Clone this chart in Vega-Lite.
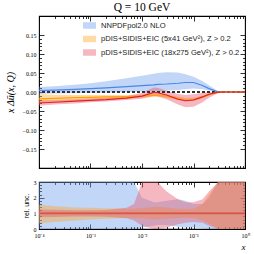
{
  "$schema": "https://vega.github.io/schema/vega-lite/v6.json",
  "padding": {"left": 4, "top": 1, "right": 6, "bottom": 2},
  "config": {
    "view": {"stroke": "black", "strokeWidth": 1.1},
    "axis": {"domain": false, "grid": false, "tickColor": "black", "tickWidth": 0.8, "labelFont": "Liberation Serif", "labelFontSize": 6, "labelColor": "black", "titleColor": "black", "labelFlush": false, "labelOverlap": false, "titleFontWeight": "normal"},
    "legend": {"labelFont": "Liberation Sans", "labelFontSize": 7.6, "labelColor": "#222"}
  },
  "datasets": {
    "main": [
      {"x": 0.0001, "series": "NNPDFpol2.0 NLO", "c": 0.004, "lo": -0.005, "hi": 0.013},
      {"x": 0.0002, "series": "NNPDFpol2.0 NLO", "c": 0.005, "lo": -0.004, "hi": 0.015},
      {"x": 0.0005, "series": "NNPDFpol2.0 NLO", "c": 0.007, "lo": -0.003, "hi": 0.019},
      {"x": 0.001, "series": "NNPDFpol2.0 NLO", "c": 0.009, "lo": -0.002, "hi": 0.023},
      {"x": 0.002, "series": "NNPDFpol2.0 NLO", "c": 0.011, "lo": -0.001, "hi": 0.028},
      {"x": 0.005, "series": "NNPDFpol2.0 NLO", "c": 0.014, "lo": 0.0, "hi": 0.036},
      {"x": 0.01, "series": "NNPDFpol2.0 NLO", "c": 0.017, "lo": 0.001, "hi": 0.043},
      {"x": 0.017, "series": "NNPDFpol2.0 NLO", "c": 0.019, "lo": 0.002, "hi": 0.048},
      {"x": 0.02, "series": "NNPDFpol2.0 NLO", "c": 0.02, "lo": 0.003, "hi": 0.05},
      {"x": 0.03, "series": "NNPDFpol2.0 NLO", "c": 0.021, "lo": 0.004, "hi": 0.052},
      {"x": 0.05, "series": "NNPDFpol2.0 NLO", "c": 0.023, "lo": 0.005, "hi": 0.051},
      {"x": 0.07, "series": "NNPDFpol2.0 NLO", "c": 0.025, "lo": 0.007, "hi": 0.047},
      {"x": 0.1, "series": "NNPDFpol2.0 NLO", "c": 0.025, "lo": 0.009, "hi": 0.04},
      {"x": 0.15, "series": "NNPDFpol2.0 NLO", "c": 0.017, "lo": 0.007, "hi": 0.028},
      {"x": 0.2, "series": "NNPDFpol2.0 NLO", "c": 0.009, "lo": 0.004, "hi": 0.018},
      {"x": 0.3, "series": "NNPDFpol2.0 NLO", "c": 0.0005, "lo": 0.0, "hi": 0.002},
      {"x": 0.4, "series": "NNPDFpol2.0 NLO", "c": 0, "lo": 0, "hi": 0},
      {"x": 0.5, "series": "NNPDFpol2.0 NLO", "c": 0, "lo": 0, "hi": 0},
      {"x": 1, "series": "NNPDFpol2.0 NLO", "c": 0, "lo": 0, "hi": 0},
      {"x": 0.0001, "series": "pDIS+SIDIS+EIC (5x41 GeV²), Z > 0.2", "c": -0.018, "lo": -0.03, "hi": -0.005},
      {"x": 0.0002, "series": "pDIS+SIDIS+EIC (5x41 GeV²), Z > 0.2", "c": -0.017, "lo": -0.027, "hi": -0.007},
      {"x": 0.0005, "series": "pDIS+SIDIS+EIC (5x41 GeV²), Z > 0.2", "c": -0.015, "lo": -0.023, "hi": -0.008},
      {"x": 0.001, "series": "pDIS+SIDIS+EIC (5x41 GeV²), Z > 0.2", "c": -0.014, "lo": -0.021, "hi": -0.008},
      {"x": 0.002, "series": "pDIS+SIDIS+EIC (5x41 GeV²), Z > 0.2", "c": -0.013, "lo": -0.019, "hi": -0.008},
      {"x": 0.005, "series": "pDIS+SIDIS+EIC (5x41 GeV²), Z > 0.2", "c": -0.012, "lo": -0.017, "hi": -0.008},
      {"x": 0.01, "series": "pDIS+SIDIS+EIC (5x41 GeV²), Z > 0.2", "c": -0.011, "lo": -0.015, "hi": -0.007},
      {"x": 0.017, "series": "pDIS+SIDIS+EIC (5x41 GeV²), Z > 0.2", "c": -0.009, "lo": -0.013, "hi": -0.006},
      {"x": 0.02, "series": "pDIS+SIDIS+EIC (5x41 GeV²), Z > 0.2", "c": -0.009, "lo": -0.013, "hi": -0.006},
      {"x": 0.03, "series": "pDIS+SIDIS+EIC (5x41 GeV²), Z > 0.2", "c": -0.011, "lo": -0.015, "hi": -0.007},
      {"x": 0.05, "series": "pDIS+SIDIS+EIC (5x41 GeV²), Z > 0.2", "c": -0.017, "lo": -0.021, "hi": -0.012},
      {"x": 0.07, "series": "pDIS+SIDIS+EIC (5x41 GeV²), Z > 0.2", "c": -0.021, "lo": -0.025, "hi": -0.016},
      {"x": 0.1, "series": "pDIS+SIDIS+EIC (5x41 GeV²), Z > 0.2", "c": -0.02, "lo": -0.024, "hi": -0.015},
      {"x": 0.15, "series": "pDIS+SIDIS+EIC (5x41 GeV²), Z > 0.2", "c": -0.013, "lo": -0.017, "hi": -0.009},
      {"x": 0.2, "series": "pDIS+SIDIS+EIC (5x41 GeV²), Z > 0.2", "c": -0.007, "lo": -0.01, "hi": -0.004},
      {"x": 0.3, "series": "pDIS+SIDIS+EIC (5x41 GeV²), Z > 0.2", "c": -0.0005, "lo": -0.002, "hi": 0.0},
      {"x": 0.4, "series": "pDIS+SIDIS+EIC (5x41 GeV²), Z > 0.2", "c": 0, "lo": 0, "hi": 0},
      {"x": 0.5, "series": "pDIS+SIDIS+EIC (5x41 GeV²), Z > 0.2", "c": 0, "lo": 0, "hi": 0},
      {"x": 1, "series": "pDIS+SIDIS+EIC (5x41 GeV²), Z > 0.2", "c": 0, "lo": 0, "hi": 0},
      {"x": 0.0001, "series": "pDIS+SIDIS+EIC (18x275 GeV²), Z > 0.2", "c": -0.029, "lo": -0.036, "hi": -0.022},
      {"x": 0.0002, "series": "pDIS+SIDIS+EIC (18x275 GeV²), Z > 0.2", "c": -0.027, "lo": -0.033, "hi": -0.021},
      {"x": 0.0005, "series": "pDIS+SIDIS+EIC (18x275 GeV²), Z > 0.2", "c": -0.024, "lo": -0.03, "hi": -0.019},
      {"x": 0.001, "series": "pDIS+SIDIS+EIC (18x275 GeV²), Z > 0.2", "c": -0.022, "lo": -0.027, "hi": -0.017},
      {"x": 0.002, "series": "pDIS+SIDIS+EIC (18x275 GeV²), Z > 0.2", "c": -0.02, "lo": -0.025, "hi": -0.015},
      {"x": 0.005, "series": "pDIS+SIDIS+EIC (18x275 GeV²), Z > 0.2", "c": -0.016, "lo": -0.021, "hi": -0.011},
      {"x": 0.01, "series": "pDIS+SIDIS+EIC (18x275 GeV²), Z > 0.2", "c": -0.011, "lo": -0.018, "hi": -0.002},
      {"x": 0.017, "series": "pDIS+SIDIS+EIC (18x275 GeV²), Z > 0.2", "c": -0.001, "lo": -0.01, "hi": 0.012},
      {"x": 0.02, "series": "pDIS+SIDIS+EIC (18x275 GeV²), Z > 0.2", "c": -0.002, "lo": -0.011, "hi": 0.011},
      {"x": 0.03, "series": "pDIS+SIDIS+EIC (18x275 GeV²), Z > 0.2", "c": -0.008, "lo": -0.019, "hi": 0.004},
      {"x": 0.05, "series": "pDIS+SIDIS+EIC (18x275 GeV²), Z > 0.2", "c": -0.019, "lo": -0.033, "hi": -0.005},
      {"x": 0.07, "series": "pDIS+SIDIS+EIC (18x275 GeV²), Z > 0.2", "c": -0.023, "lo": -0.04, "hi": -0.008},
      {"x": 0.1, "series": "pDIS+SIDIS+EIC (18x275 GeV²), Z > 0.2", "c": -0.021, "lo": -0.039, "hi": -0.006},
      {"x": 0.15, "series": "pDIS+SIDIS+EIC (18x275 GeV²), Z > 0.2", "c": -0.013, "lo": -0.027, "hi": -0.002},
      {"x": 0.2, "series": "pDIS+SIDIS+EIC (18x275 GeV²), Z > 0.2", "c": -0.006, "lo": -0.015, "hi": 0.0},
      {"x": 0.3, "series": "pDIS+SIDIS+EIC (18x275 GeV²), Z > 0.2", "c": -0.0005, "lo": -0.003, "hi": 0.001},
      {"x": 0.4, "series": "pDIS+SIDIS+EIC (18x275 GeV²), Z > 0.2", "c": 0, "lo": 0, "hi": 0},
      {"x": 0.5, "series": "pDIS+SIDIS+EIC (18x275 GeV²), Z > 0.2", "c": 0, "lo": 0, "hi": 0},
      {"x": 1, "series": "pDIS+SIDIS+EIC (18x275 GeV²), Z > 0.2", "c": 0, "lo": 0, "hi": 0}
    ],
    "rel": [
      {"x": 0.0001, "series": "NNPDFpol2.0 NLO", "lo": 0, "hi": 3},
      {"x": 0.0002, "series": "NNPDFpol2.0 NLO", "lo": 0, "hi": 3},
      {"x": 0.0005, "series": "NNPDFpol2.0 NLO", "lo": 0, "hi": 3},
      {"x": 0.001, "series": "NNPDFpol2.0 NLO", "lo": 0, "hi": 3},
      {"x": 0.002, "series": "NNPDFpol2.0 NLO", "lo": 0, "hi": 3},
      {"x": 0.005, "series": "NNPDFpol2.0 NLO", "lo": 0, "hi": 3},
      {"x": 0.007, "series": "NNPDFpol2.0 NLO", "lo": 0, "hi": 3},
      {"x": 0.01, "series": "NNPDFpol2.0 NLO", "lo": 0.1, "hi": 2.0},
      {"x": 0.017, "series": "NNPDFpol2.0 NLO", "lo": 0.2, "hi": 1.7},
      {"x": 0.02, "series": "NNPDFpol2.0 NLO", "lo": 0.25, "hi": 1.7},
      {"x": 0.03, "series": "NNPDFpol2.0 NLO", "lo": 0.25, "hi": 1.8},
      {"x": 0.05, "series": "NNPDFpol2.0 NLO", "lo": 0.15, "hi": 1.9},
      {"x": 0.07, "series": "NNPDFpol2.0 NLO", "lo": 0.1, "hi": 1.8},
      {"x": 0.1, "series": "NNPDFpol2.0 NLO", "lo": 0.1, "hi": 1.6},
      {"x": 0.15, "series": "NNPDFpol2.0 NLO", "lo": 0.05, "hi": 1.6},
      {"x": 0.2, "series": "NNPDFpol2.0 NLO", "lo": 0, "hi": 2.0},
      {"x": 0.3, "series": "NNPDFpol2.0 NLO", "lo": 0, "hi": 3},
      {"x": 0.4, "series": "NNPDFpol2.0 NLO", "lo": 0, "hi": 3},
      {"x": 0.5, "series": "NNPDFpol2.0 NLO", "lo": 0, "hi": 3},
      {"x": 1, "series": "NNPDFpol2.0 NLO", "lo": 0, "hi": 3},
      {"x": 0.0001, "series": "pDIS+SIDIS+EIC (5x41 GeV²), Z > 0.2", "lo": 0.35, "hi": 1.55},
      {"x": 0.0002, "series": "pDIS+SIDIS+EIC (5x41 GeV²), Z > 0.2", "lo": 0.45, "hi": 1.45},
      {"x": 0.0005, "series": "pDIS+SIDIS+EIC (5x41 GeV²), Z > 0.2", "lo": 0.55, "hi": 1.38},
      {"x": 0.001, "series": "pDIS+SIDIS+EIC (5x41 GeV²), Z > 0.2", "lo": 0.6, "hi": 1.35},
      {"x": 0.002, "series": "pDIS+SIDIS+EIC (5x41 GeV²), Z > 0.2", "lo": 0.65, "hi": 1.33},
      {"x": 0.005, "series": "pDIS+SIDIS+EIC (5x41 GeV²), Z > 0.2", "lo": 0.7, "hi": 1.3},
      {"x": 0.007, "series": "pDIS+SIDIS+EIC (5x41 GeV²), Z > 0.2", "lo": 0.7, "hi": 1.3},
      {"x": 0.01, "series": "pDIS+SIDIS+EIC (5x41 GeV²), Z > 0.2", "lo": 0.68, "hi": 1.33},
      {"x": 0.017, "series": "pDIS+SIDIS+EIC (5x41 GeV²), Z > 0.2", "lo": 0.6, "hi": 1.4},
      {"x": 0.02, "series": "pDIS+SIDIS+EIC (5x41 GeV²), Z > 0.2", "lo": 0.6, "hi": 1.42},
      {"x": 0.03, "series": "pDIS+SIDIS+EIC (5x41 GeV²), Z > 0.2", "lo": 0.65, "hi": 1.38},
      {"x": 0.05, "series": "pDIS+SIDIS+EIC (5x41 GeV²), Z > 0.2", "lo": 0.7, "hi": 1.3},
      {"x": 0.07, "series": "pDIS+SIDIS+EIC (5x41 GeV²), Z > 0.2", "lo": 0.72, "hi": 1.28},
      {"x": 0.1, "series": "pDIS+SIDIS+EIC (5x41 GeV²), Z > 0.2", "lo": 0.7, "hi": 1.3},
      {"x": 0.15, "series": "pDIS+SIDIS+EIC (5x41 GeV²), Z > 0.2", "lo": 0.55, "hi": 1.6},
      {"x": 0.2, "series": "pDIS+SIDIS+EIC (5x41 GeV²), Z > 0.2", "lo": 0.35, "hi": 2.2},
      {"x": 0.3, "series": "pDIS+SIDIS+EIC (5x41 GeV²), Z > 0.2", "lo": 0, "hi": 3},
      {"x": 0.4, "series": "pDIS+SIDIS+EIC (5x41 GeV²), Z > 0.2", "lo": 0, "hi": 3},
      {"x": 0.5, "series": "pDIS+SIDIS+EIC (5x41 GeV²), Z > 0.2", "lo": 0, "hi": 3},
      {"x": 1, "series": "pDIS+SIDIS+EIC (5x41 GeV²), Z > 0.2", "lo": 0, "hi": 3},
      {"x": 0.0001, "series": "pDIS+SIDIS+EIC (18x275 GeV²), Z > 0.2", "lo": 0.75, "hi": 1.25},
      {"x": 0.0002, "series": "pDIS+SIDIS+EIC (18x275 GeV²), Z > 0.2", "lo": 0.77, "hi": 1.23},
      {"x": 0.0005, "series": "pDIS+SIDIS+EIC (18x275 GeV²), Z > 0.2", "lo": 0.8, "hi": 1.2},
      {"x": 0.001, "series": "pDIS+SIDIS+EIC (18x275 GeV²), Z > 0.2", "lo": 0.8, "hi": 1.2},
      {"x": 0.002, "series": "pDIS+SIDIS+EIC (18x275 GeV²), Z > 0.2", "lo": 0.78, "hi": 1.22},
      {"x": 0.005, "series": "pDIS+SIDIS+EIC (18x275 GeV²), Z > 0.2", "lo": 0.68, "hi": 1.35},
      {"x": 0.007, "series": "pDIS+SIDIS+EIC (18x275 GeV²), Z > 0.2", "lo": 0.55, "hi": 1.6},
      {"x": 0.01, "series": "pDIS+SIDIS+EIC (18x275 GeV²), Z > 0.2", "lo": 0.2, "hi": 3},
      {"x": 0.017, "series": "pDIS+SIDIS+EIC (18x275 GeV²), Z > 0.2", "lo": 0, "hi": 3},
      {"x": 0.02, "series": "pDIS+SIDIS+EIC (18x275 GeV²), Z > 0.2", "lo": 0, "hi": 3},
      {"x": 0.03, "series": "pDIS+SIDIS+EIC (18x275 GeV²), Z > 0.2", "lo": 0.1, "hi": 2.4},
      {"x": 0.05, "series": "pDIS+SIDIS+EIC (18x275 GeV²), Z > 0.2", "lo": 0.3, "hi": 1.9},
      {"x": 0.07, "series": "pDIS+SIDIS+EIC (18x275 GeV²), Z > 0.2", "lo": 0.4, "hi": 1.7},
      {"x": 0.1, "series": "pDIS+SIDIS+EIC (18x275 GeV²), Z > 0.2", "lo": 0.45, "hi": 1.7},
      {"x": 0.15, "series": "pDIS+SIDIS+EIC (18x275 GeV²), Z > 0.2", "lo": 0.4, "hi": 1.9},
      {"x": 0.2, "series": "pDIS+SIDIS+EIC (18x275 GeV²), Z > 0.2", "lo": 0.2, "hi": 2.4},
      {"x": 0.3, "series": "pDIS+SIDIS+EIC (18x275 GeV²), Z > 0.2", "lo": 0, "hi": 3},
      {"x": 0.4, "series": "pDIS+SIDIS+EIC (18x275 GeV²), Z > 0.2", "lo": 0, "hi": 3},
      {"x": 0.5, "series": "pDIS+SIDIS+EIC (18x275 GeV²), Z > 0.2", "lo": 0, "hi": 3},
      {"x": 1, "series": "pDIS+SIDIS+EIC (18x275 GeV²), Z > 0.2", "lo": 0, "hi": 3}
    ]
  },
  "spacing": 9,
  "resolve": {"scale": {"fill": "independent", "stroke": "independent"}, "legend": {"fill": "independent"}},
  "vconcat": [
    {
      "width": 206,
      "height": 152,
      "title": {"text": "Q = 10 GeV", "font": "Liberation Serif", "fontSize": 11.5, "fontWeight": "normal", "color": "black", "offset": 2},
      "data": {"name": "main"},
      "resolve": {"axis": {"x": "independent", "y": "independent"}},
      "layer": [
        {
          "mark": {"type": "area", "fillOpacity": 0.42},
          "encoding": {
            "x": {"field": "x", "type": "quantitative", "scale": {"type": "log", "domain": [0.0001, 1]},
                  "axis": {"orient": "bottom", "values": [0.0001, 0.001, 0.01, 0.1, 1], "labels": false, "tickSize": -5, "title": null}},
            "y": {"field": "lo", "type": "quantitative", "scale": {"domain": [-0.15, 0.15]},
                  "axis": {"orient": "left", "values": [-0.15, -0.1, -0.05, 0, 0.05, 0.1, 0.15], "format": ".2f", "tickSize": -5, "labelPadding": 8,
                           "title": "x Δū(x, Q)", "titleFont": "Liberation Serif", "titleFontStyle": "italic", "titleFontSize": 10, "titlePadding": 7}},
            "y2": {"field": "hi"},
            "fill": {"field": "series", "type": "nominal",
                     "scale": {"domain": ["NNPDFpol2.0 NLO", "pDIS+SIDIS+EIC (5x41 GeV²), Z > 0.2", "pDIS+SIDIS+EIC (18x275 GeV²), Z > 0.2"], "range": ["#6d9eeb", "#ffa726", "#e8556a"]},
                     "legend": {"orient": "none", "legendX": 44, "legendY": 3, "title": null, "symbolType": "M-1,-0.5H1V0.5H-1Z", "symbolSize": 169, "symbolOpacity": 0.42, "symbolStrokeWidth": 0, "rowPadding": 2.5, "labelOffset": 5, "labelLimit": 300, "padding": 0}}
          }
        },
        {
          "mark": {"type": "rule", "strokeDash": [3, 2], "color": "#333333", "strokeWidth": 1},
          "encoding": {"y": {"datum": 0, "type": "quantitative", "axis": null}}
        },
        {
          "transform": [{"filter": "datum.series == 'NNPDFpol2.0 NLO'"}],
          "mark": {"type": "line", "color": "#4a86e8", "strokeWidth": 1.2},
          "encoding": {
            "x": {"field": "x", "type": "quantitative", "axis": {"orient": "bottom", "values": [0.0002,0.0003,0.0004,0.0005,0.0006,0.0007,0.0008,0.0009,0.002,0.003,0.004,0.005,0.006,0.007,0.008,0.009,0.02,0.03,0.04,0.05,0.06,0.07,0.08,0.09,0.2,0.3,0.4,0.5,0.6,0.7,0.8,0.9], "labels": false, "tickSize": -2.5, "title": null}},
            "y": {"field": "c", "type": "quantitative", "axis": {"orient": "left", "values": [-0.14,-0.13,-0.12,-0.11,-0.09,-0.08,-0.07,-0.06,-0.04,-0.03,-0.02,-0.01,0.01,0.02,0.03,0.04,0.06,0.07,0.08,0.09,0.11,0.12,0.13,0.14], "labels": false, "tickSize": -2.5, "title": null}}
          }
        },
        {
          "transform": [{"filter": "indexof(datum.series, '5x41') >= 0"}],
          "mark": {"type": "line", "color": "#ffa000", "strokeWidth": 1.2},
          "encoding": {
            "x": {"field": "x", "type": "quantitative", "axis": {"orient": "top", "values": [0.0001, 0.001, 0.01, 0.1, 1], "labels": false, "tickSize": -5, "title": null}},
            "y": {"field": "c", "type": "quantitative", "axis": {"orient": "right", "values": [-0.15, -0.1, -0.05, 0, 0.05, 0.1, 0.15], "labels": false, "tickSize": -5, "title": null}}
          }
        },
        {
          "transform": [{"filter": "indexof(datum.series, '18x275') >= 0"}],
          "mark": {"type": "line", "color": "#e0202a", "strokeWidth": 1.2},
          "encoding": {
            "x": {"field": "x", "type": "quantitative", "axis": {"orient": "top", "values": [0.0002,0.0003,0.0004,0.0005,0.0006,0.0007,0.0008,0.0009,0.002,0.003,0.004,0.005,0.006,0.007,0.008,0.009,0.02,0.03,0.04,0.05,0.06,0.07,0.08,0.09,0.2,0.3,0.4,0.5,0.6,0.7,0.8,0.9], "labels": false, "tickSize": -2.5, "title": null}},
            "y": {"field": "c", "type": "quantitative", "axis": {"orient": "right", "values": [-0.14,-0.13,-0.12,-0.11,-0.09,-0.08,-0.07,-0.06,-0.04,-0.03,-0.02,-0.01,0.01,0.02,0.03,0.04,0.06,0.07,0.08,0.09,0.11,0.12,0.13,0.14], "labels": false, "tickSize": -2.5, "title": null}}
          }
        }
      ]
    },
    {
      "width": 206,
      "height": 47,
      "data": {"name": "rel"},
      "resolve": {"axis": {"x": "independent", "y": "independent"}},
      "layer": [
        {
          "mark": {"type": "area", "fillOpacity": 0.42},
          "encoding": {
            "x": {"field": "x", "type": "quantitative", "scale": {"type": "log", "domain": [0.0001, 1]},
                  "axis": {"orient": "bottom", "values": [0.0001, 0.001, 0.01, 0.1, 1], "tickSize": -5, "labelPadding": 8,
                           "labelExpr": "datum.value > 0.5 ? '10⁰' : datum.value > 0.05 ? '10⁻¹' : datum.value > 0.005 ? '10⁻²' : datum.value > 0.0005 ? '10⁻³' : '10⁻⁴'",
                           "title": "x", "titleFont": "Liberation Serif", "titleFontStyle": "italic", "titleFontSize": 9, "titleAnchor": "end", "titlePadding": 4}},
            "y": {"field": "lo", "type": "quantitative", "scale": {"domain": [0, 3]},
                  "axis": {"orient": "left", "values": [0, 1, 2, 3], "tickSize": -5, "labelPadding": 8,
                           "title": "rel. unc.", "titleFont": "Liberation Sans", "titleFontSize": 7, "titlePadding": 4}},
            "y2": {"field": "hi"},
            "fill": {"field": "series", "type": "nominal",
                     "scale": {"domain": ["NNPDFpol2.0 NLO", "pDIS+SIDIS+EIC (5x41 GeV²), Z > 0.2", "pDIS+SIDIS+EIC (18x275 GeV²), Z > 0.2"], "range": ["#6d9eeb", "#ffa726", "#e8556a"]},
                     "legend": null}
          }
        },
        {
          "transform": [{"filter": "datum.series == 'NNPDFpol2.0 NLO'"}],
          "mark": {"type": "line", "color": "#4a86e8", "strokeWidth": 1.5},
          "encoding": {
            "x": {"field": "x", "type": "quantitative", "axis": {"orient": "top", "values": [0.0001, 0.001, 0.01, 0.1, 1], "labels": false, "tickSize": -5, "title": null}},
            "y": {"datum": 1, "type": "quantitative", "axis": {"orient": "right", "values": [0, 1, 2, 3], "labels": false, "tickSize": -5, "title": null}}
          }
        },
        {
          "transform": [{"filter": "indexof(datum.series, '5x41') >= 0"}],
          "mark": {"type": "line", "color": "#ffa000", "strokeWidth": 1.5},
          "encoding": {
            "x": {"field": "x", "type": "quantitative", "axis": {"orient": "top", "values": [0.0002,0.0003,0.0004,0.0005,0.0006,0.0007,0.0008,0.0009,0.002,0.003,0.004,0.005,0.006,0.007,0.008,0.009,0.02,0.03,0.04,0.05,0.06,0.07,0.08,0.09,0.2,0.3,0.4,0.5,0.6,0.7,0.8,0.9], "labels": false, "tickSize": -2.5, "title": null}},
            "y": {"datum": 1, "type": "quantitative", "axis": {"orient": "right", "values": [0.2,0.4,0.6,0.8,1.2,1.4,1.6,1.8,2.2,2.4,2.6,2.8], "labels": false, "tickSize": -2.5, "title": null}}
          }
        },
        {
          "transform": [{"filter": "indexof(datum.series, '18x275') >= 0"}],
          "mark": {"type": "line", "color": "#e05050", "strokeWidth": 1.8},
          "encoding": {
            "x": {"field": "x", "type": "quantitative", "axis": {"orient": "bottom", "values": [0.0002,0.0003,0.0004,0.0005,0.0006,0.0007,0.0008,0.0009,0.002,0.003,0.004,0.005,0.006,0.007,0.008,0.009,0.02,0.03,0.04,0.05,0.06,0.07,0.08,0.09,0.2,0.3,0.4,0.5,0.6,0.7,0.8,0.9], "labels": false, "tickSize": -2.5, "title": null}},
            "y": {"datum": 1, "type": "quantitative", "axis": {"orient": "left", "values": [0.2,0.4,0.6,0.8,1.2,1.4,1.6,1.8,2.2,2.4,2.6,2.8], "labels": false, "tickSize": -2.5, "title": null}}
          }
        }
      ]
    }
  ]
}
